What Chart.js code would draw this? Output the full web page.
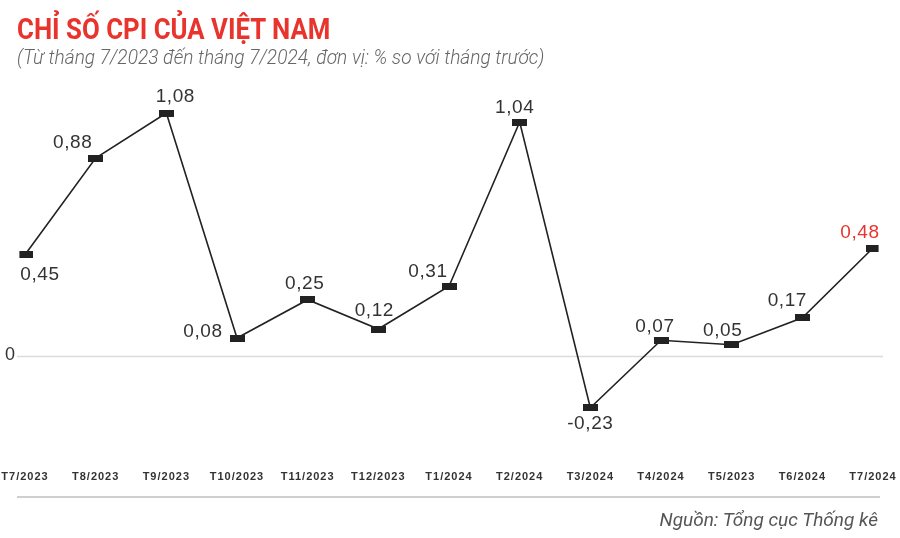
<!DOCTYPE html>
<html>
<head>
<meta charset="utf-8">
<script src="https://cdn.jsdelivr.net/npm/chart.js@4.4.1/dist/chart.umd.min.js"></script>
<style>
  html, body { margin: 0; padding: 0; background: #fff; }
  #wrap { position: relative; width: 900px; height: 538px; overflow: hidden; font-family: Roboto, "Liberation Sans", sans-serif; }
  #chart { position: absolute; left: 0; top: 0; }
  .title { position: absolute; left: 17px; top: 12px; font-size: 29px; font-weight: 700; color: #e8342c; white-space: nowrap; transform: scaleX(0.89); transform-origin: left top; }
  .subtitle { position: absolute; left: 17px; top: 45px; font-size: 20px; font-style: italic; font-weight: 300; color: #666; white-space: nowrap; transform: scaleX(0.955); transform-origin: left top; }
  .rule { position: absolute; left: 17px; top: 496px; width: 863px; height: 2px; background: #cfcfcf; }
  .source { position: absolute; right: 22px; top: 508px; font-size: 19px; font-style: italic; color: #555; white-space: nowrap; }
</style>
</head>
<body>
<div id="wrap">
  <canvas id="chart" width="900" height="538"></canvas>
  <div class="title">CHỈ SỐ CPI CỦA VIỆT NAM</div>
  <div class="subtitle">(Từ tháng 7/2023 đến tháng 7/2024, đơn vị: % so với tháng trước)</div>
  <div class="rule"></div>
  <div class="source">Nguồn: Tổng cục Thống kê</div>
</div>
<script>
  const months = ["T7/2023", "T8/2023", "T9/2023", "T10/2023", "T11/2023", "T12/2023",
    "T1/2024", "T2/2024", "T3/2024", "T4/2024", "T5/2023", "T6/2024", "T7/2024"];
  const cpiValues = [0.45, 0.88, 1.08, 0.08, 0.25, 0.12, 0.31, 1.04, -0.23, 0.07, 0.05, 0.17, 0.48];

  // where each value label sits relative to its marker
  const labelOffsets = [[15, 20], [-23, -15], [9, -16], [-34, -6], [-3, -16], [-4, -18], [-21, -14],
    [-5, -14], [0, 16], [-6, -13], [-9, -14], [-15, -17], [-13, -15]];

  const fmt = (v) => v.toFixed(2).replace(".", ",");

  const marker = document.createElement("canvas");
  marker.width = 15;
  marker.height = 7;
  const mctx = marker.getContext("2d");
  mctx.fillStyle = "#222";
  mctx.fillRect(0, 0, 15, 7);

  // widen the x tick labels a little, like the original
  const tickSpacing = {
    id: "tickSpacing",
    beforeDraw(chart) {
      if ("letterSpacing" in chart.ctx) chart.ctx.letterSpacing = "1px";
    },
    beforeDatasetsDraw(chart) {
      if ("letterSpacing" in chart.ctx) chart.ctx.letterSpacing = "0px";
    }
  };

  const zeroLine = {
    id: "zeroLine",
    beforeDatasetsDraw(chart) {
      const { ctx, chartArea, scales } = chart;
      const y = Math.round(scales.y.getPixelForValue(0)) + 0.5;
      ctx.save();
      ctx.strokeStyle = "#dcdcdc";
      ctx.lineWidth = 1.5;
      ctx.beginPath();
      ctx.moveTo(chartArea.left - 8, y);
      ctx.lineTo(chartArea.right + 10, y);
      ctx.stroke();
      ctx.fillStyle = "#333";
      ctx.font = "18px 'Liberation Sans', Arial, sans-serif";
      ctx.textAlign = "center";
      ctx.textBaseline = "middle";
      ctx.fillText("0", chartArea.left - 15, y - 1);
      ctx.restore();
    }
  };

  const valueLabels = {
    id: "valueLabels",
    afterDatasetsDraw(chart) {
      const { ctx } = chart;
      const meta = chart.getDatasetMeta(0);
      ctx.save();
      ctx.font = "19px 'Liberation Sans', Arial, sans-serif";
      if ("letterSpacing" in ctx) ctx.letterSpacing = "0.6px";
      ctx.textAlign = "center";
      ctx.textBaseline = "middle";
      meta.data.forEach((pt, i) => {
        const [dx, dy] = labelOffsets[i];
        ctx.fillStyle = i === cpiValues.length - 1 ? "#e8342c" : "#333";
        ctx.fillText(fmt(cpiValues[i]), pt.x + dx, pt.y + dy);
      });
      ctx.restore();
    }
  };

  new Chart(document.getElementById("chart"), {
    type: "line",
    data: {
      labels: months,
      datasets: [{
        data: cpiValues,
        borderColor: "#222",
        borderWidth: 1.6,
        tension: 0,
        pointStyle: marker,
        pointRadius: 4,
        pointHoverRadius: 4
      }]
    },
    options: {
      responsive: false,
      animation: false,
      layout: { padding: { left: 25, right: 27, top: 88, bottom: 50 } },
      plugins: { legend: { display: false }, tooltip: { enabled: false }, title: { display: false } },
      scales: {
        x: {
          offset: false,
          grid: { display: false, drawTicks: false },
          border: { display: false },
          afterFit: (s) => { s.height = 22; },
          ticks: {
            autoSkip: false,
            maxRotation: 0,
            padding: 4,
            color: "#333",
            font: { family: "'Liberation Sans', Arial, sans-serif", size: 11, weight: "bold" }
          }
        },
        y: {
          display: false,
          min: (356 - 466) / 225,
          max: (356 - 88) / 225
        }
      }
    },
    plugins: [tickSpacing, zeroLine, valueLabels]
  });
</script>
</body>
</html>
